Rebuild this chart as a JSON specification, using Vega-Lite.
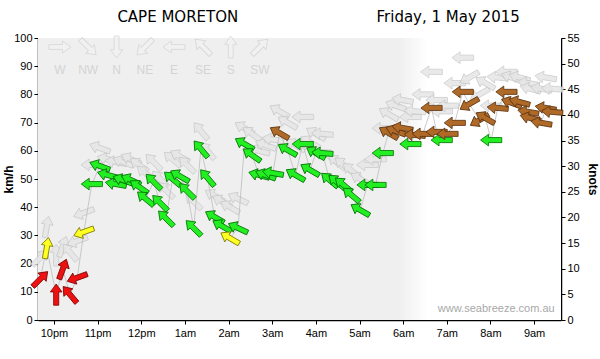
{
  "$schema": "https://vega.github.io/schema/vega-lite/v6.json",
  "width": 523,
  "height": 282,
  "autosize": {"type": "none"},
  "padding": {"left": 38, "top": 38, "right": 39, "bottom": 39},
  "background": "#ffffff",
  "title": {
    "text": "\u200b\u00a0\u00a0\u00a0\u00a0\u00a0\u00a0\u00a0\u00a0CAPE MORETON\u00a0\u00a0\u00a0\u00a0\u00a0\u00a0\u00a0\u00a0\u00a0\u00a0\u00a0\u00a0\u00a0\u00a0\u00a0\u00a0\u00a0\u00a0\u00a0\u00a0\u00a0\u00a0\u00a0\u00a0\u00a0\u00a0\u00a0\u00a0\u00a0Friday, 1 May 2015",
    "anchor": "middle",
    "offset": 7,
    "font": "DejaVu Sans",
    "fontSize": 15,
    "fontWeight": "normal",
    "color": "#000000"
  },
  "config": {
    "view": {"stroke": null, "fill": "#ffffff"},
    "axis": {"zindex": 1, "labelFont": "Liberation Sans", "labelFontSize": 11, "labelColor": "#000000", "domainColor": "#000000", "tickColor": "#000000", "titleFont": "Liberation Sans", "titleFontSize": 12, "titleFontWeight": "bold", "titleColor": "#000000"}
  },
  "datasets": {
    "wind": [
      {"t": "2015-04-30T21:41", "spd": 14.5, "gust": 22, "dir": 225},
      {"t": "2015-04-30T21:50", "spd": 25.5, "gust": 33, "dir": 190},
      {"t": "2015-04-30T22:03", "spd": 9, "gust": 23, "dir": 180},
      {"t": "2015-04-30T22:12", "spd": 18, "gust": 26, "dir": 200},
      {"t": "2015-04-30T22:22", "spd": 9, "gust": 24, "dir": 140},
      {"t": "2015-04-30T22:32", "spd": 15, "gust": 28, "dir": 70},
      {"t": "2015-04-30T22:41", "spd": 31.2, "gust": 38, "dir": 70},
      {"t": "2015-04-30T22:52", "spd": 48.2, "gust": 55, "dir": 90},
      {"t": "2015-04-30T23:03", "spd": 54.6, "gust": 61, "dir": 110},
      {"t": "2015-04-30T23:14", "spd": 51.4, "gust": 57, "dir": 105},
      {"t": "2015-04-30T23:25", "spd": 48.2, "gust": 56, "dir": 100},
      {"t": "2015-04-30T23:35", "spd": 49.6, "gust": 56, "dir": 110},
      {"t": "2015-04-30T23:46", "spd": 49.6, "gust": 57, "dir": 115},
      {"t": "2015-04-30T23:57", "spd": 47.2, "gust": 55, "dir": 125},
      {"t": "2015-05-01T00:06", "spd": 43, "gust": 52, "dir": 130},
      {"t": "2015-05-01T00:17", "spd": 49, "gust": 56, "dir": 135},
      {"t": "2015-05-01T00:26", "spd": 41.5, "gust": 50, "dir": 135},
      {"t": "2015-05-01T00:34", "spd": 36, "gust": 46, "dir": 135},
      {"t": "2015-05-01T00:43", "spd": 50, "gust": 57, "dir": 130},
      {"t": "2015-05-01T00:53", "spd": 51, "gust": 58, "dir": 120},
      {"t": "2015-05-01T01:03", "spd": 45.7, "gust": 55, "dir": 135},
      {"t": "2015-05-01T01:12", "spd": 32.6, "gust": 42, "dir": 135},
      {"t": "2015-05-01T01:22", "spd": 60.6, "gust": 67, "dir": 140},
      {"t": "2015-05-01T01:31", "spd": 50.4, "gust": 60, "dir": 140},
      {"t": "2015-05-01T01:41", "spd": 36.5, "gust": 44, "dir": 120},
      {"t": "2015-05-01T01:51", "spd": 33.3, "gust": 42, "dir": 120},
      {"t": "2015-05-01T02:02", "spd": 29, "gust": 40, "dir": 120},
      {"t": "2015-05-01T02:13", "spd": 32.6, "gust": 43, "dir": 115},
      {"t": "2015-05-01T02:22", "spd": 62.4, "gust": 68, "dir": 120},
      {"t": "2015-05-01T02:32", "spd": 58.5, "gust": 66, "dir": 125},
      {"t": "2015-05-01T02:42", "spd": 51.4, "gust": 60, "dir": 105},
      {"t": "2015-05-01T02:51", "spd": 51.4, "gust": 62, "dir": 110},
      {"t": "2015-05-01T03:01", "spd": 52.1, "gust": 64, "dir": 100},
      {"t": "2015-05-01T03:10", "spd": 66.3, "gust": 74, "dir": 120},
      {"t": "2015-05-01T03:21", "spd": 60.3, "gust": 70, "dir": 120},
      {"t": "2015-05-01T03:32", "spd": 51.4, "gust": 62, "dir": 120},
      {"t": "2015-05-01T03:42", "spd": 62.4, "gust": 72, "dir": 90},
      {"t": "2015-05-01T03:52", "spd": 53.2, "gust": 63, "dir": 120},
      {"t": "2015-05-01T04:00", "spd": 59.2, "gust": 66, "dir": 120},
      {"t": "2015-05-01T04:09", "spd": 59.2, "gust": 66, "dir": 95},
      {"t": "2015-05-01T04:19", "spd": 49.6, "gust": 58, "dir": 130},
      {"t": "2015-05-01T04:29", "spd": 48.9, "gust": 56, "dir": 130},
      {"t": "2015-05-01T04:38", "spd": 47.9, "gust": 55, "dir": 130},
      {"t": "2015-05-01T04:49", "spd": 44.3, "gust": 53, "dir": 130},
      {"t": "2015-05-01T05:01", "spd": 39, "gust": 50, "dir": 120},
      {"t": "2015-05-01T05:11", "spd": 47.9, "gust": 55, "dir": 90},
      {"t": "2015-05-01T05:22", "spd": 47.9, "gust": 57, "dir": 90},
      {"t": "2015-05-01T05:32", "spd": 59.2, "gust": 68, "dir": 90},
      {"t": "2015-05-01T05:40", "spd": 66.3, "gust": 73, "dir": 120},
      {"t": "2015-05-01T05:50", "spd": 67, "gust": 76, "dir": 110},
      {"t": "2015-05-01T05:59", "spd": 68.1, "gust": 78, "dir": 100},
      {"t": "2015-05-01T06:10", "spd": 62.4, "gust": 72, "dir": 90},
      {"t": "2015-05-01T06:16", "spd": 65.6, "gust": 74, "dir": 95},
      {"t": "2015-05-01T06:27", "spd": 66, "gust": 80, "dir": 90},
      {"t": "2015-05-01T06:39", "spd": 75.2, "gust": 88, "dir": 90},
      {"t": "2015-05-01T06:46", "spd": 66.7, "gust": 78, "dir": 90},
      {"t": "2015-05-01T06:53", "spd": 63.8, "gust": 74, "dir": 90},
      {"t": "2015-05-01T07:01", "spd": 66, "gust": 76, "dir": 90},
      {"t": "2015-05-01T07:11", "spd": 69.9, "gust": 84, "dir": 90},
      {"t": "2015-05-01T07:22", "spd": 80.9, "gust": 93, "dir": 90},
      {"t": "2015-05-01T07:31", "spd": 76.6, "gust": 86, "dir": 60},
      {"t": "2015-05-01T07:45", "spd": 70.9, "gust": 80, "dir": 60},
      {"t": "2015-05-01T07:53", "spd": 71.6, "gust": 84, "dir": 120},
      {"t": "2015-05-01T08:01", "spd": 63.8, "gust": 76, "dir": 90},
      {"t": "2015-05-01T08:10", "spd": 75.2, "gust": 86, "dir": 95},
      {"t": "2015-05-01T08:22", "spd": 80.9, "gust": 88, "dir": 90},
      {"t": "2015-05-01T08:29", "spd": 77, "gust": 86, "dir": 110},
      {"t": "2015-05-01T08:40", "spd": 77.3, "gust": 86, "dir": 105},
      {"t": "2015-05-01T08:52", "spd": 73.8, "gust": 84, "dir": 100},
      {"t": "2015-05-01T08:55", "spd": 71.6, "gust": 82, "dir": 105},
      {"t": "2015-05-01T09:10", "spd": 69.9, "gust": 82, "dir": 100},
      {"t": "2015-05-01T09:16", "spd": 75.2, "gust": 86, "dir": 100},
      {"t": "2015-05-01T09:25", "spd": 73.8, "gust": 82, "dir": 95}
    ],
    "compass": [
      {"t": "2015-04-30T22:08", "lab": "W", "dir": 270, "ya": 96.8, "yl": 88.7},
      {"t": "2015-04-30T22:47", "lab": "NW", "dir": 315, "ya": 96.8, "yl": 88.7},
      {"t": "2015-04-30T23:26", "lab": "N", "dir": 0, "ya": 96.8, "yl": 88.7},
      {"t": "2015-05-01T00:05", "lab": "NE", "dir": 45, "ya": 96.8, "yl": 88.7},
      {"t": "2015-05-01T00:45", "lab": "E", "dir": 90, "ya": 96.8, "yl": 88.7},
      {"t": "2015-05-01T01:25", "lab": "SE", "dir": 135, "ya": 96.8, "yl": 88.7},
      {"t": "2015-05-01T02:03", "lab": "S", "dir": 180, "ya": 96.8, "yl": 88.7},
      {"t": "2015-05-01T02:43", "lab": "SW", "dir": 225, "ya": 96.8, "yl": 88.7}
    ],
    "bg": [
      {"t": "2015-04-30T21:38", "t2": "2015-05-01T09:37", "y": 0, "y2": 100}
    ],
    "wm": [
      {"t": "2015-05-01T08:08", "y": 3.9, "txt": "www.seabreeze.com.au"}
    ],
    "knots": [{"k": 0}, {"k": 55}]
  },
  "layer": [
    {
      "encoding": {
        "x": {
          "field": "t", "type": "temporal",
          "scale": {"domain": [{"year": 2015, "month": 4, "date": 30, "hours": 21, "minutes": 38}, {"year": 2015, "month": 5, "date": 1, "hours": 9, "minutes": 37}]},
          "axis": {
            "title": null,
            "labelExpr": "minutes(datum.value) != 0 ? '' : (hours(datum.value) == 0 ? '12pm' : (hours(datum.value) < 12 ? hours(datum.value) + 'am' : (hours(datum.value) - 12) + 'pm'))",
            "labelOverlap": false,
            "labelPadding": 3,
            "tickSize": 4,
            "grid": false,
            "domainWidth": 1.5
          }
        }
      },
      "layer": [
        {
          "data": {"name": "bg"},
          "mark": {"type": "rect", "fill": {"gradient": "linear", "x1": 0, "y1": 0, "x2": 1, "y2": 0, "stops": [{"offset": 0, "color": "#efefef"}, {"offset": 0.69, "color": "#efefef"}, {"offset": 0.745, "color": "#ffffff"}, {"offset": 1, "color": "#ffffff"}]}},
          "encoding": {
            "x2": {"field": "t2"},
            "y": {"field": "y", "type": "quantitative", "scale": {"domain": [0, 100], "nice": false},
              "axis": {"title": "km/h", "tickCount": 10, "tickSize": 4, "labelPadding": 2, "titlePadding": -2, "grid": false, "domainWidth": 1.5}},
            "y2": {"field": "y2"}
          }
        },
        {
          "data": {"name": "wind"},
          "mark": {"type": "point", "filled": true, "shape": "M0,-1L0.55,-0.25L0.24,-0.25L0.24,1L-0.24,1L-0.24,-0.25L-0.55,-0.25Z", "size": 470, "fill": "#e6e6e6", "stroke": "#c6c6c6", "strokeWidth": 0.8, "opacity": 0.85},
          "encoding": {
            "y": {"field": "gust", "type": "quantitative"},
            "angle": {"field": "dir", "type": "quantitative", "scale": {"domain": [0, 360], "range": [180, 540]}}
          }
        },
        {
          "data": {"name": "wind"},
          "mark": {"type": "line", "color": "#bdbdbd", "strokeWidth": 0.8},
          "encoding": {
            "y": {"field": "spd", "type": "quantitative"}
          }
        },
        {
          "data": {"name": "compass"},
          "mark": {"type": "point", "filled": true, "shape": "M0,-1L0.55,-0.25L0.22,-0.25L0.22,1L-0.22,1L-0.22,-0.25L-0.55,-0.25Z", "size": 480, "fill": "#f3f3f3", "stroke": "#d2d2d2", "strokeWidth": 1},
          "encoding": {
            "y": {"field": "ya", "type": "quantitative"},
            "angle": {"field": "dir", "type": "quantitative", "scale": {"domain": [0, 360], "range": [180, 540]}}
          }
        },
        {
          "data": {"name": "compass"},
          "mark": {"type": "text", "font": "Liberation Sans", "fontSize": 12, "color": "#d4d4d4", "baseline": "middle"},
          "encoding": {
            "y": {"field": "yl", "type": "quantitative"},
            "text": {"field": "lab"}
          }
        },
        {
          "data": {"name": "wind"},
          "mark": {"type": "point", "filled": true, "shape": "M0,-1L0.55,-0.25L0.24,-0.25L0.24,1L-0.24,1L-0.24,-0.25L-0.55,-0.25Z", "size": 450, "strokeWidth": 0.8, "opacity": 1},
          "encoding": {
            "y": {"field": "spd", "type": "quantitative"},
            "angle": {"field": "dir", "type": "quantitative", "scale": {"domain": [0, 360], "range": [180, 540]}},
            "fill": {"field": "spd", "type": "quantitative", "scale": {"type": "threshold", "domain": [20, 32, 65], "range": ["#ee1111", "#ffff22", "#22ee22", "#b06a28"]}, "legend": null},
            "stroke": {"field": "spd", "type": "quantitative", "scale": {"type": "threshold", "domain": [20, 32, 65], "range": ["#7a0000", "#7a7a00", "#007000", "#5a3210"]}, "legend": null}
          }
        },
        {
          "data": {"name": "wm"},
          "mark": {"type": "text", "font": "Liberation Sans", "fontSize": 11, "color": "#a8a8a8", "baseline": "middle", "align": "center"},
          "encoding": {
            "y": {"field": "y", "type": "quantitative"},
            "text": {"field": "txt"}
          }
        }
      ]
    },
    {
      "data": {"name": "knots"},
      "mark": {"type": "point", "opacity": 0},
      "encoding": {
        "y": {"field": "k", "type": "quantitative", "scale": {"domain": [0, 55], "nice": false},
          "axis": {"orient": "right", "title": "knots", "titleAngle": 90, "titlePadding": 6,
            "values": [0,5,10,15,20,25,30,35,40,45,50,55],
            "tickSize": 4,
            "labelPadding": 2,
            "grid": true,
            "gridColor": "#8a8a8a",
            "gridDash": [1, 2],
            "gridWidth": 1,
            "domainWidth": 1.5}
        }
      }
    }
  ],
  "resolve": {"scale": {"y": "independent"}, "axis": {"y": "independent"}}
}
